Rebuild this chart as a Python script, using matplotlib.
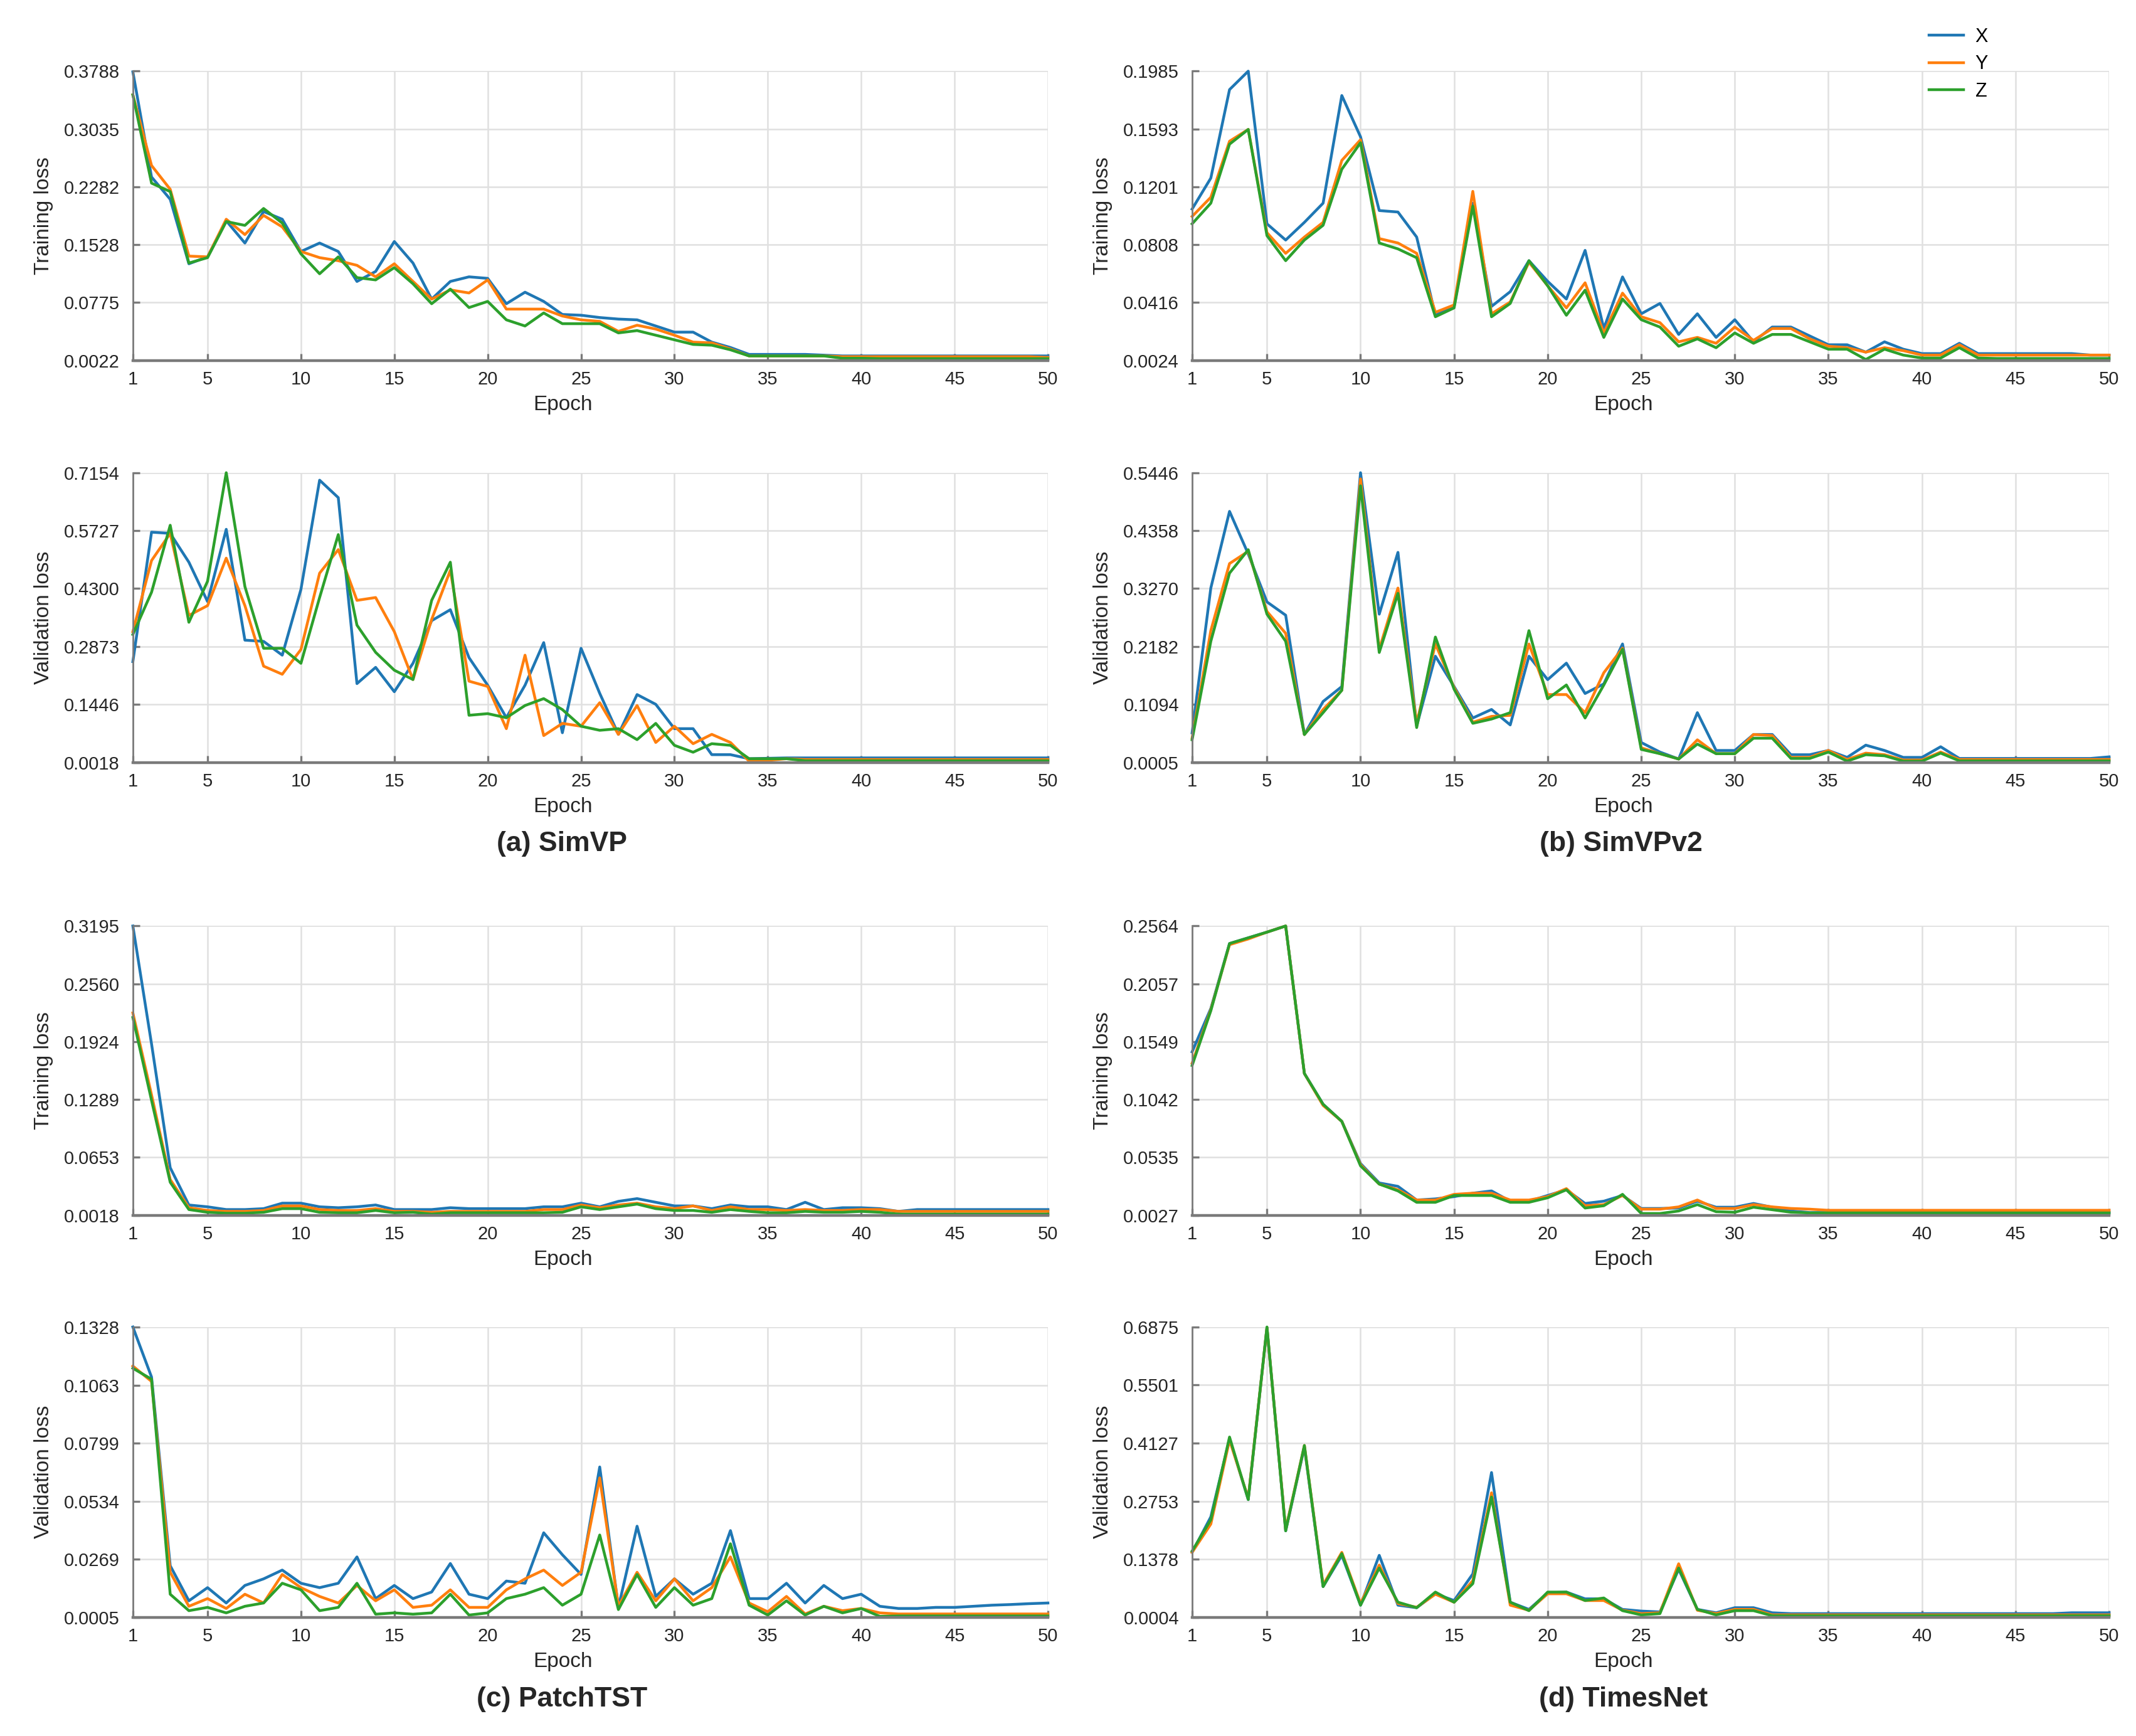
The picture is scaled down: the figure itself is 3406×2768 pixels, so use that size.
import numpy as np
import matplotlib
matplotlib.use("Agg")
import matplotlib.pyplot as plt

plt.rcParams['font.family'] = ['Liberation Sans', 'DejaVu Sans']

# ------------------------------------------------------
# DATA
# ------------------------------------------------------

epochs = np.arange(1, 51)
series_names = ["X", "Y", "Z"]
series_colors = ["#1f77b4", "#ff7f0e", "#2ca02c"]
x_ticks = [1, 5, 10, 15, 20, 25, 30, 35, 40, 45, 50]

# (a) SimVP
a_train_x = [0.378, 0.241, 0.212, 0.128, 0.137, 0.184, 0.155, 0.196, 0.186, 0.144,
             0.155, 0.144, 0.105, 0.118, 0.157, 0.129, 0.082, 0.105, 0.111, 0.109,
             0.076, 0.091, 0.079, 0.062, 0.061, 0.058, 0.056, 0.055, 0.047, 0.039,
             0.039, 0.026, 0.019, 0.010, 0.010, 0.010, 0.010, 0.009, 0.008, 0.008,
             0.008, 0.008, 0.008, 0.008, 0.008, 0.008, 0.008, 0.008, 0.008, 0.008]
a_train_y = [0.348, 0.256, 0.225, 0.138, 0.137, 0.186, 0.166, 0.191, 0.176, 0.144,
             0.136, 0.132, 0.126, 0.111, 0.128, 0.105, 0.082, 0.094, 0.090, 0.107,
             0.069, 0.069, 0.069, 0.060, 0.055, 0.053, 0.040, 0.048, 0.043, 0.035,
             0.026, 0.025, 0.017, 0.008, 0.008, 0.008, 0.008, 0.008, 0.007, 0.007,
             0.007, 0.007, 0.007, 0.007, 0.007, 0.007, 0.007, 0.007, 0.007, 0.006]
a_train_z = [0.348, 0.233, 0.222, 0.129, 0.136, 0.183, 0.178, 0.200, 0.181, 0.141,
             0.115, 0.137, 0.110, 0.107, 0.123, 0.102, 0.076, 0.095, 0.071, 0.079,
             0.055, 0.047, 0.064, 0.050, 0.050, 0.050, 0.038, 0.041, 0.035, 0.029,
             0.023, 0.022, 0.016, 0.008, 0.008, 0.008, 0.008, 0.008, 0.005, 0.005,
             0.0045, 0.0045, 0.0045, 0.0045, 0.0045, 0.0045, 0.0045, 0.0045, 0.0045, 0.0045]
a_train_ticks = [0.0022, 0.0775, 0.1528, 0.2282, 0.3035, 0.3788]

a_val_x = [0.250, 0.569, 0.566, 0.495, 0.398, 0.576, 0.303, 0.300, 0.266, 0.428,
           0.697, 0.654, 0.196, 0.236, 0.176, 0.246, 0.351, 0.378, 0.260, 0.192,
           0.112, 0.192, 0.297, 0.075, 0.283, 0.172, 0.071, 0.169, 0.145, 0.085,
           0.085, 0.021, 0.021, 0.011, 0.012, 0.013, 0.013, 0.013, 0.013, 0.013,
           0.013, 0.013, 0.013, 0.013, 0.013, 0.013, 0.013, 0.013, 0.013, 0.013]
a_val_y = [0.324, 0.499, 0.566, 0.364, 0.388, 0.505, 0.388, 0.239, 0.219, 0.280,
           0.468, 0.526, 0.401, 0.408, 0.324, 0.206, 0.354, 0.475, 0.202, 0.189,
           0.085, 0.266, 0.068, 0.098, 0.091, 0.149, 0.071, 0.142, 0.051, 0.091,
           0.048, 0.071, 0.051, 0.005, 0.007, 0.011, 0.009, 0.009, 0.009, 0.009,
           0.009, 0.009, 0.009, 0.009, 0.009, 0.009, 0.009, 0.009, 0.009, 0.009]
a_val_z = [0.317, 0.421, 0.586, 0.347, 0.448, 0.7154, 0.435, 0.283, 0.283, 0.246,
           0.408, 0.563, 0.340, 0.273, 0.229, 0.206, 0.401, 0.495, 0.118, 0.122,
           0.112, 0.142, 0.159, 0.132, 0.091, 0.081, 0.085, 0.058, 0.098, 0.044,
           0.027, 0.048, 0.044, 0.011, 0.011, 0.011, 0.006, 0.006, 0.006, 0.006,
           0.006, 0.006, 0.006, 0.006, 0.006, 0.006, 0.006, 0.006, 0.006, 0.006]
a_val_ticks = [0.0018, 0.1446, 0.2873, 0.4300, 0.5727, 0.7154]

# (b) SimVPv2
b_train_x = [0.105, 0.126, 0.186, 0.1985, 0.095, 0.084, 0.096, 0.109, 0.182, 0.154,
             0.104, 0.103, 0.086, 0.033, 0.039, 0.109, 0.039, 0.049, 0.070, 0.056,
             0.044, 0.077, 0.024, 0.059, 0.034, 0.041, 0.020, 0.034, 0.018, 0.030,
             0.015, 0.025, 0.025, 0.019, 0.013, 0.013, 0.008, 0.015, 0.010, 0.007,
             0.007, 0.014, 0.007, 0.007, 0.007, 0.007, 0.007, 0.007, 0.006, 0.006]
b_train_y = [0.100, 0.113, 0.151, 0.159, 0.089, 0.075, 0.086, 0.096, 0.138, 0.152,
             0.085, 0.082, 0.075, 0.035, 0.040, 0.117, 0.034, 0.042, 0.069, 0.053,
             0.038, 0.055, 0.021, 0.048, 0.032, 0.028, 0.015, 0.018, 0.014, 0.025,
             0.016, 0.024, 0.024, 0.017, 0.012, 0.011, 0.008, 0.011, 0.009, 0.006,
             0.006, 0.013, 0.006, 0.006, 0.006, 0.006, 0.006, 0.006, 0.006, 0.006]
b_train_z = [0.095, 0.109, 0.149, 0.159, 0.087, 0.070, 0.084, 0.094, 0.132, 0.150,
             0.082, 0.078, 0.072, 0.032, 0.038, 0.107, 0.032, 0.041, 0.070, 0.053,
             0.033, 0.050, 0.018, 0.044, 0.030, 0.025, 0.012, 0.017, 0.011, 0.021,
             0.014, 0.020, 0.020, 0.015, 0.010, 0.010, 0.003, 0.010, 0.006, 0.004,
             0.004, 0.011, 0.004, 0.0037, 0.0037, 0.0037, 0.0037, 0.0037, 0.0037, 0.0037]
b_train_ticks = [0.0024, 0.0416, 0.0808, 0.1201, 0.1593, 0.1985]

b_val_x = [0.056, 0.328, 0.472, 0.392, 0.302, 0.277, 0.053, 0.115, 0.143, 0.5446,
           0.279, 0.395, 0.069, 0.200, 0.143, 0.084, 0.100, 0.071, 0.200, 0.156,
           0.187, 0.130, 0.148, 0.223, 0.038, 0.020, 0.007, 0.094, 0.023, 0.023,
           0.053, 0.053, 0.015, 0.015, 0.023, 0.010, 0.033, 0.023, 0.010, 0.010,
           0.030, 0.008, 0.008, 0.008, 0.008, 0.008, 0.008, 0.008, 0.008, 0.011]
b_val_y = [0.046, 0.248, 0.374, 0.397, 0.284, 0.243, 0.053, 0.100, 0.136, 0.533,
           0.213, 0.328, 0.074, 0.223, 0.141, 0.076, 0.087, 0.089, 0.223, 0.128,
           0.128, 0.094, 0.169, 0.215, 0.028, 0.017, 0.007, 0.043, 0.017, 0.017,
           0.053, 0.051, 0.010, 0.010, 0.023, 0.006, 0.018, 0.015, 0.005, 0.005,
           0.020, 0.006, 0.006, 0.006, 0.006, 0.006, 0.006, 0.006, 0.006, 0.006]
b_val_z = [0.043, 0.228, 0.356, 0.400, 0.279, 0.228, 0.053, 0.094, 0.136, 0.520,
           0.207, 0.318, 0.066, 0.236, 0.138, 0.074, 0.082, 0.094, 0.248, 0.120,
           0.146, 0.084, 0.146, 0.213, 0.025, 0.017, 0.007, 0.035, 0.017, 0.017,
           0.046, 0.046, 0.008, 0.008, 0.020, 0.003, 0.015, 0.013, 0.003, 0.003,
           0.018, 0.0035, 0.0035, 0.0035, 0.0035, 0.0035, 0.0035, 0.0035, 0.0035, 0.0035]
b_val_ticks = [0.0005, 0.1094, 0.2182, 0.3270, 0.4358, 0.5446]

# (c) PatchTST
c_train_x = [0.3195, 0.190, 0.054, 0.013, 0.011, 0.008, 0.008, 0.009, 0.015, 0.015,
             0.011, 0.010, 0.011, 0.013, 0.008, 0.008, 0.008, 0.010, 0.009, 0.009,
             0.009, 0.009, 0.011, 0.011, 0.015, 0.011, 0.017, 0.020, 0.016, 0.012,
             0.012, 0.009, 0.013, 0.011, 0.011, 0.008, 0.016, 0.008, 0.010, 0.010,
             0.009, 0.006, 0.008, 0.008, 0.008, 0.008, 0.008, 0.008, 0.008, 0.008]
c_train_y = [0.224, 0.134, 0.041, 0.010, 0.007, 0.006, 0.006, 0.007, 0.012, 0.012,
             0.008, 0.007, 0.007, 0.009, 0.006, 0.006, 0.005, 0.006, 0.006, 0.006,
             0.006, 0.006, 0.008, 0.008, 0.013, 0.010, 0.013, 0.015, 0.011, 0.009,
             0.012, 0.007, 0.011, 0.008, 0.008, 0.007, 0.008, 0.007, 0.007, 0.008,
             0.008, 0.006, 0.006, 0.006, 0.006, 0.006, 0.006, 0.006, 0.006, 0.006]
c_train_z = [0.219, 0.128, 0.038, 0.008, 0.005, 0.004, 0.004, 0.005, 0.009, 0.009,
             0.005, 0.0045, 0.0045, 0.007, 0.0045, 0.005, 0.003, 0.0045, 0.0045, 0.0045,
             0.0045, 0.0045, 0.0045, 0.005, 0.011, 0.008, 0.011, 0.014, 0.009, 0.007,
             0.007, 0.005, 0.008, 0.006, 0.0045, 0.0045, 0.006, 0.005, 0.005, 0.006,
             0.005, 0.003, 0.003, 0.003, 0.003, 0.003, 0.003, 0.003, 0.003, 0.003]
c_train_ticks = [0.0018, 0.0653, 0.1289, 0.1924, 0.2560, 0.3195]

c_val_x = [0.1328, 0.110, 0.024, 0.008, 0.014, 0.007, 0.015, 0.018, 0.022, 0.016,
           0.014, 0.016, 0.028, 0.009, 0.015, 0.009, 0.012, 0.025, 0.011, 0.009,
           0.017, 0.016, 0.039, 0.029, 0.020, 0.069, 0.005, 0.042, 0.010, 0.018,
           0.011, 0.016, 0.040, 0.009, 0.009, 0.016, 0.007, 0.015, 0.009, 0.011,
           0.0055, 0.0045, 0.0045, 0.005, 0.005, 0.0055, 0.006, 0.0063, 0.0067, 0.007]
c_val_y = [0.115, 0.108, 0.021, 0.0055, 0.009, 0.0045, 0.011, 0.007, 0.020, 0.014,
           0.010, 0.007, 0.015, 0.008, 0.013, 0.005, 0.006, 0.013, 0.005, 0.005,
           0.013, 0.018, 0.022, 0.015, 0.021, 0.064, 0.0055, 0.021, 0.008, 0.018,
           0.008, 0.014, 0.028, 0.007, 0.003, 0.010, 0.002, 0.0055, 0.0035, 0.0045,
           0.0025, 0.002, 0.002, 0.002, 0.002, 0.002, 0.002, 0.002, 0.002, 0.002]
c_val_z = [0.114, 0.109, 0.011, 0.0035, 0.005, 0.0025, 0.0055, 0.007, 0.016, 0.013,
           0.0035, 0.005, 0.016, 0.0019, 0.0025, 0.0019, 0.0025, 0.011, 0.0015, 0.0025,
           0.009, 0.011, 0.014, 0.006, 0.011, 0.038, 0.004, 0.020, 0.005, 0.014,
           0.006, 0.009, 0.034, 0.006, 0.0015, 0.008, 0.0015, 0.0055, 0.0025, 0.0045,
           0.0009, 0.0011, 0.0011, 0.0011, 0.0011, 0.0011, 0.0011, 0.0011, 0.0011, 0.0011]
c_val_ticks = [0.0005, 0.0269, 0.0534, 0.0799, 0.1063, 0.1328]

# (d) TimesNet
d_train_x = [0.146, 0.184, 0.241, 0.246, 0.251, 0.2564, 0.127, 0.100, 0.085, 0.048,
             0.031, 0.028, 0.016, 0.017, 0.019, 0.022, 0.024, 0.015, 0.015, 0.020,
             0.025, 0.013, 0.015, 0.020, 0.0086, 0.0086, 0.009, 0.015, 0.0097, 0.0097,
             0.013, 0.0097, 0.0064, 0.005, 0.005, 0.005, 0.005, 0.005, 0.005, 0.005,
             0.005, 0.005, 0.005, 0.005, 0.005, 0.005, 0.005, 0.005, 0.005, 0.005]
d_train_y = [0.136, 0.183, 0.240, 0.245, 0.251, 0.2564, 0.127, 0.099, 0.085, 0.047,
             0.030, 0.025, 0.016, 0.016, 0.021, 0.022, 0.022, 0.016, 0.016, 0.019,
             0.026, 0.011, 0.012, 0.020, 0.008, 0.008, 0.010, 0.016, 0.0086, 0.0086,
             0.012, 0.010, 0.0086, 0.008, 0.007, 0.007, 0.007, 0.007, 0.007, 0.007,
             0.007, 0.007, 0.007, 0.007, 0.007, 0.007, 0.007, 0.007, 0.007, 0.007]
d_train_z = [0.134, 0.182, 0.241, 0.246, 0.251, 0.2564, 0.127, 0.100, 0.085, 0.046,
             0.030, 0.024, 0.014, 0.014, 0.020, 0.020, 0.020, 0.014, 0.014, 0.018,
             0.025, 0.009, 0.011, 0.021, 0.0042, 0.0042, 0.0064, 0.012, 0.0058, 0.0053,
             0.0097, 0.0075, 0.0053, 0.0047, 0.0047, 0.0047, 0.0047, 0.0047, 0.0047, 0.0047,
             0.0047, 0.0047, 0.0047, 0.0047, 0.0047, 0.0047, 0.0047, 0.0047, 0.0047, 0.0047]
d_train_ticks = [0.0027, 0.0535, 0.1042, 0.1549, 0.2057, 0.2564]

d_val_x = [0.154, 0.238, 0.423, 0.279, 0.686, 0.205, 0.403, 0.073, 0.147, 0.029,
           0.147, 0.029, 0.023, 0.056, 0.040, 0.103, 0.343, 0.036, 0.019, 0.058,
           0.060, 0.044, 0.044, 0.019, 0.015, 0.013, 0.114, 0.019, 0.011, 0.023,
           0.023, 0.011, 0.009, 0.009, 0.009, 0.009, 0.009, 0.009, 0.009, 0.009,
           0.009, 0.009, 0.009, 0.009, 0.009, 0.009, 0.009, 0.011, 0.011, 0.011]
d_val_y = [0.154, 0.221, 0.420, 0.282, 0.686, 0.208, 0.407, 0.077, 0.154, 0.033,
           0.124, 0.033, 0.024, 0.055, 0.036, 0.087, 0.295, 0.029, 0.017, 0.056,
           0.056, 0.040, 0.040, 0.017, 0.009, 0.011, 0.127, 0.017, 0.009, 0.019,
           0.019, 0.006, 0.006, 0.006, 0.006, 0.006, 0.006, 0.006, 0.006, 0.006,
           0.006, 0.006, 0.006, 0.006, 0.006, 0.006, 0.006, 0.006, 0.006, 0.006]
d_val_z = [0.157, 0.231, 0.427, 0.279, 0.6875, 0.205, 0.407, 0.073, 0.151, 0.029,
           0.117, 0.036, 0.023, 0.060, 0.036, 0.080, 0.285, 0.036, 0.016, 0.060,
           0.060, 0.040, 0.046, 0.016, 0.006, 0.009, 0.117, 0.019, 0.006, 0.016,
           0.016, 0.004, 0.004, 0.004, 0.004, 0.004, 0.004, 0.004, 0.004, 0.004,
           0.004, 0.004, 0.004, 0.004, 0.004, 0.004, 0.004, 0.004, 0.004, 0.004]
d_val_ticks = [0.0004, 0.1378, 0.2753, 0.4127, 0.5501, 0.6875]

captions = ["(a) SimVP", "(b) SimVPv2", "(c) PatchTST", "(d) TimesNet"]


# ------------------------------------------------------
# LAYOUT
# ------------------------------------------------------

fig = plt.figure(figsize=(17.03, 13.84), dpi=200)

col_x = [(0.0622, 0.4906), (0.5581, 0.9874)]
row_y = [(0.7924, 0.9590), (0.5608, 0.7277), (0.3000, 0.4666), (0.0684, 0.2356)]

panels = [
    (0, 0, "Training loss", [a_train_x, a_train_y, a_train_z], a_train_ticks),
    (1, 0, "Validation loss", [a_val_x, a_val_y, a_val_z], a_val_ticks),
    (0, 1, "Training loss", [b_train_x, b_train_y, b_train_z], b_train_ticks),
    (1, 1, "Validation loss", [b_val_x, b_val_y, b_val_z], b_val_ticks),
    (2, 0, "Training loss", [c_train_x, c_train_y, c_train_z], c_train_ticks),
    (3, 0, "Validation loss", [c_val_x, c_val_y, c_val_z], c_val_ticks),
    (2, 1, "Training loss", [d_train_x, d_train_y, d_train_z], d_train_ticks),
    (3, 1, "Validation loss", [d_val_x, d_val_y, d_val_z], d_val_ticks),
]

spine_col = "#7a7a7a"
text_col = "#262626"
handles = None

for row, col, ylab, data, yt in panels:
    x0, x1 = col_x[col]
    y0, y1 = row_y[row]
    ax = fig.add_axes([x0, y0, x1 - x0, y1 - y0])

    lines = []
    for vals, name, c in zip(data, series_names, series_colors):
        ln, = ax.plot(epochs, vals, color=c, lw=1.6, label=name, clip_on=False)
        lines.append(ln)
    if handles is None:
        handles = lines

    ax.set_xlim(1, 50)
    ax.set_ylim(yt[0], yt[-1])
    ax.set_xticks(x_ticks)
    ax.set_yticks(yt)
    ax.set_yticklabels([f"{v:.4f}" for v in yt])

    ax.grid(True, color="#e0e0e0", lw=0.9)
    ax.set_axisbelow(True)
    for s in ["top", "right"]:
        ax.spines[s].set_visible(False)
    ax.spines["left"].set_color(spine_col)
    ax.spines["left"].set_linewidth(1.0)
    ax.spines["bottom"].set_color(spine_col)
    ax.spines["bottom"].set_linewidth(1.6)
    ax.tick_params(axis="both", direction="in", length=4, width=1.2,
                   color=spine_col, labelsize=10.5, labelcolor=text_col)
    ax.tick_params(axis="x", pad=6)
    ax.tick_params(axis="y", pad=7.5)

    ax.set_xlabel("Epoch", fontsize=12, color=text_col)
    ax.xaxis.set_label_coords(0.47, -0.12)
    ax.set_ylabel(ylab, fontsize=12, color=text_col)
    ax.yaxis.set_label_coords(-0.087, 0.5)

# panel captions
cap_pos = [(0.263, 0.514), (0.759, 0.514), (0.263, 0.0213), (0.760, 0.0213)]
for txt, (cx, cy) in zip(captions, cap_pos):
    fig.text(cx, cy, txt, ha="center", va="center", fontsize=16,
             fontweight="bold", color=text_col)

fig.legend(handles, series_names, loc="center", bbox_to_anchor=(0.917, 0.963),
           frameon=False, fontsize=11, handlelength=1.8, handletextpad=0.6,
           labelspacing=0.45)

fig.savefig("out.png", dpi=200)
